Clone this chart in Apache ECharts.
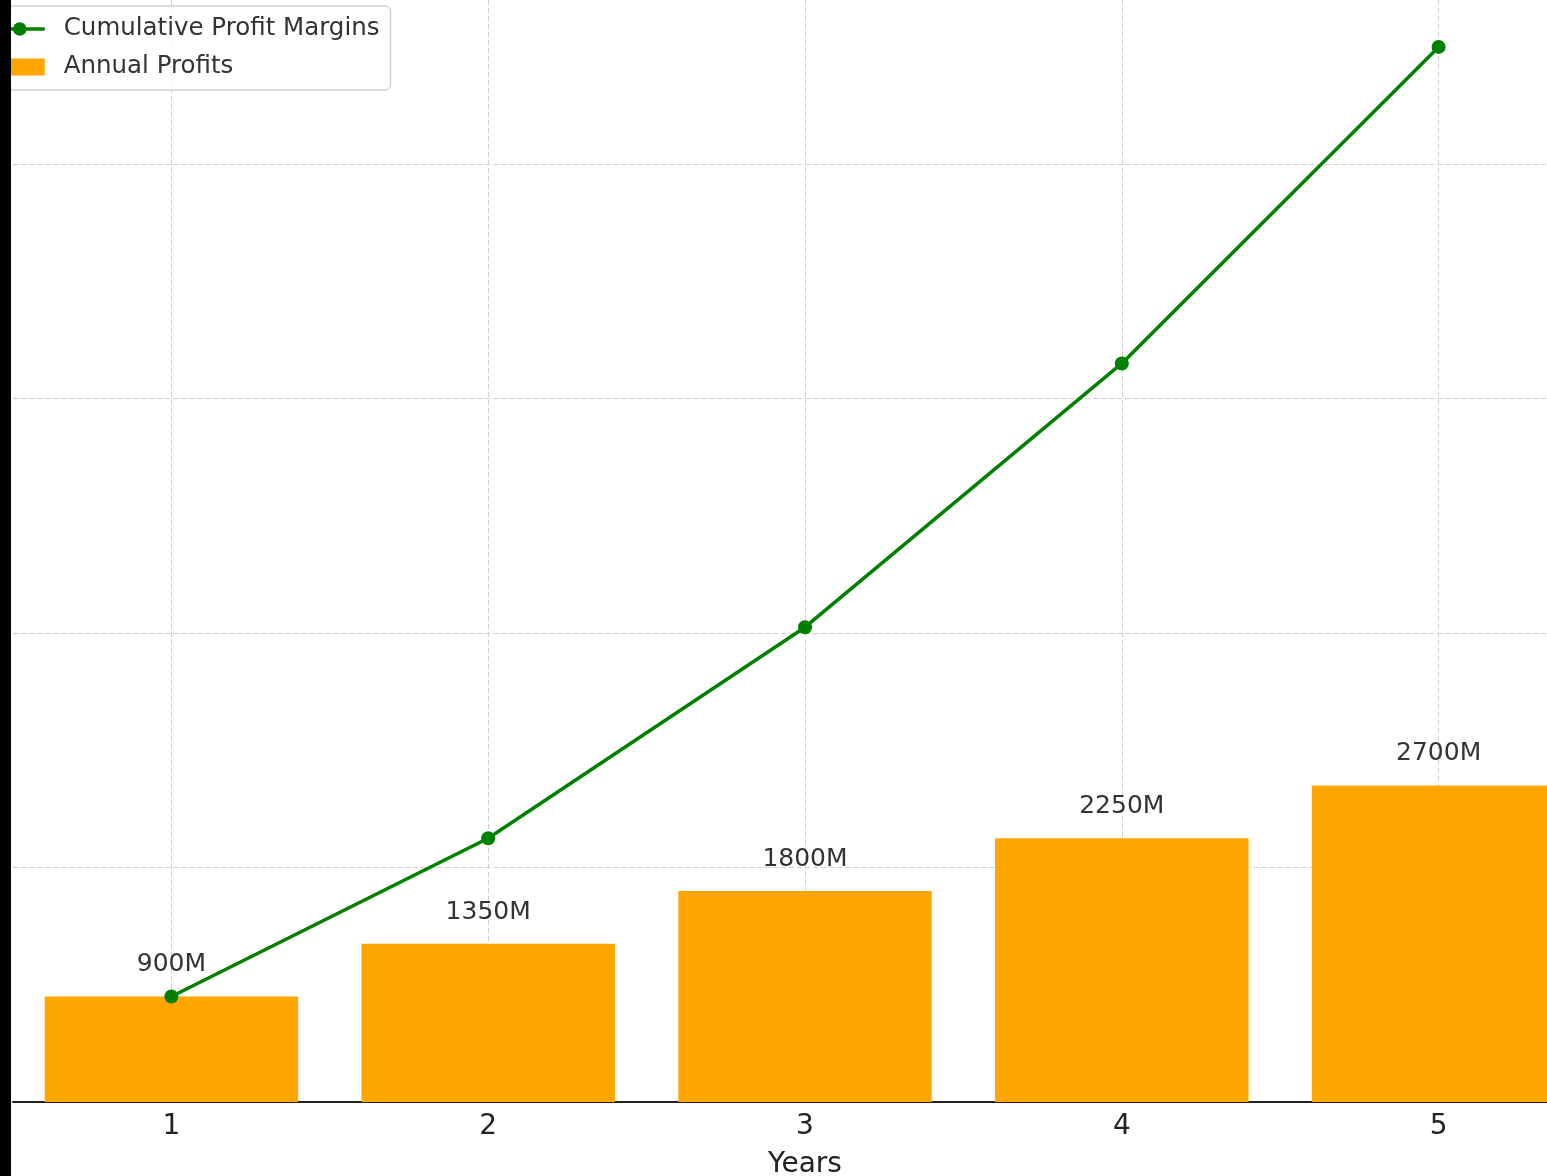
<!DOCTYPE html>
<html>
<head>
<meta charset="utf-8">
<script src="https://cdn.jsdelivr.net/npm/echarts@6/dist/echarts.min.js"></script>
<style>
  html, body { margin: 0; padding: 0; background: #fff; }
  #chart { width: 1547px; height: 1176px; }
</style>
</head>
<body>
<div id="chart"></div>
<script>
// chart data
const years = ['1', '2', '3', '4', '5'];
const annualProfits = [900, 1350, 1800, 2250, 2700];
const cumulativeMargins = [900, 2250, 4050, 6300, 9000];

const font = 'DejaVu Sans';
const chart = echarts.init(document.getElementById('chart'));

const option = {
  animation: false,
  textStyle: { fontFamily: font },
  grid: { left: 13, width: 1584, top: 0, bottom: 74, outerBoundsMode: 'none', containLabel: false },
  legend: {
    orient: 'vertical',
    left: -17,
    top: 6,
    padding: [9, 11, 9, 10],
    itemWidth: 50,
    itemHeight: 17,
    itemGap: 10,
    backgroundColor: 'rgba(255,255,255,0.85)',
    borderColor: '#d0d0d0',
    borderWidth: 1.5,
    borderRadius: 5,
    lineStyle: { width: 3.5 },
    textStyle: { fontSize: 24.5, color: '#333', lineHeight: 28, padding: [0, 0, 0, 14] },
    data: [
      { name: 'Cumulative Profit Margins' },
      { name: 'Annual Profits', icon: 'rect' }
    ]
  },
  xAxis: {
    type: 'category',
    data: years,
    name: 'Years',
    nameLocation: 'middle',
    nameGap: 49,
    nameTextStyle: { fontSize: 28, color: '#222' },
    axisLine: { lineStyle: { color: '#222', width: 2 } },
    axisTick: { alignWithLabel: true, inside: true, length: 7, lineStyle: { color: '#222', width: 1.5 } },
    axisLabel: { fontSize: 28, color: '#222', margin: 11 },
    splitLine: { show: true, alignWithLabel: true, lineStyle: { color: '#cfcfcf', type: [5, 3], width: 1 } }
  },
  yAxis: {
    type: 'value',
    min: 0,
    max: 9400,
    interval: 2000,
    axisLabel: { show: false },
    axisLine: { show: false },
    axisTick: { show: false },
    splitLine: { show: true, showMaxLine: false, showMinLine: false, lineStyle: { color: '#cfcfcf', type: [5, 3], width: 1 } }
  },
  series: [
    {
      name: 'Annual Profits',
      type: 'bar',
      data: annualProfits,
      barWidth: '80%',
      itemStyle: { color: '#FFA500' },
      label: {
        show: true,
        position: 'top',
        distance: 19,
        fontSize: 25,
        color: '#333',
        formatter: p => p.value + 'M'
      },
      z: 2
    },
    {
      name: 'Cumulative Profit Margins',
      type: 'line',
      data: cumulativeMargins,
      symbol: 'circle',
      symbolSize: 14,
      lineStyle: { color: '#008000', width: 3.5 },
      itemStyle: { color: '#008000' },
      z: 3
    }
  ],
  graphic: [
    { type: 'rect', left: 0, top: 0, z: 100, shape: { width: 11, height: 1176 }, style: { fill: '#000' } }
  ]
};

chart.setOption(option);
window.onresize = chart.resize;
</script>
</body>
</html>
